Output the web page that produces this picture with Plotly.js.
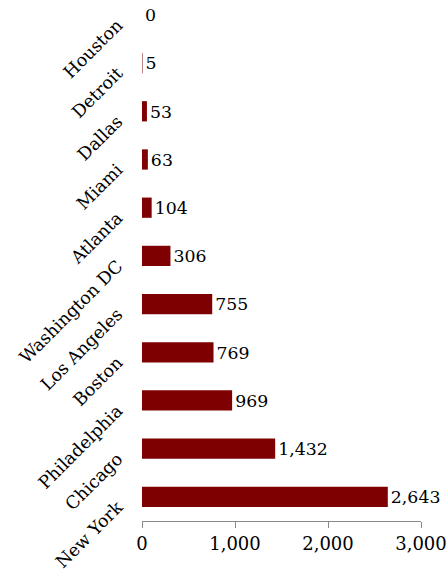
<!DOCTYPE html>
<html><head><meta charset="utf-8">
<script src="https://cdn.plot.ly/plotly-3.0.1.min.js"></script>
<style>html,body{margin:0;padding:0;background:#fff}</style>
</head><body>
<div id="chart" style="width:447px;height:582px"></div>
<script>
const cities = ["Houston","Detroit","Dallas","Miami","Atlanta","Washington DC","Los Angeles","Boston","Philadelphia","Chicago","New York"];
const values = [0,5,53,63,104,306,755,769,969,1432,2643];
const xTicks = [0,1000,2000,3000];
const xTickLabels = ["0","1,000","2,000","3,000"];

const font = "DejaVu Serif, serif";
Plotly.newPlot("chart", [{
  type: "bar",
  orientation: "h",
  y: cities,
  x: values,
  marker: {color: "#7f0000"},
  text: values.map(v => v.toLocaleString("en-US")),
  textposition: "outside",
  textfont: {family: font, size: 18, color: "#000"},
  cliponaxis: false,
  width: 0.42
}], {
  width: 447, height: 582,
  margin: {l: 142, r: 26, t: 5, b: 61},
  paper_bgcolor: "#fff", plot_bgcolor: "#fff",
  showlegend: false,
  font: {family: font, size: 18, color: "#000"},
  xaxis: {
    range: [0, 3000], tickvals: xTicks, ticktext: xTickLabels,
    showgrid: false, zeroline: false,
    showline: true, linecolor: "#888", linewidth: 1,
    ticks: "outside", ticklen: 6, tickcolor: "#888",
    ticklabeloverflow: "allow",
    tickfont: {family: font, size: 18}
  },
  yaxis: {
    type: "category",
    range: [10.5, -0.205],
    showgrid: false, zeroline: false, showline: false,
    ticks: "outside", ticklen: 20, tickcolor: "rgba(0,0,0,0)",
    ticklabelshift: -8,
    tickangle: -45,
    tickfont: {family: font, size: 17.5}
  }
}, {displayModeBar: false, staticPlot: true});
</script>
</body></html>
